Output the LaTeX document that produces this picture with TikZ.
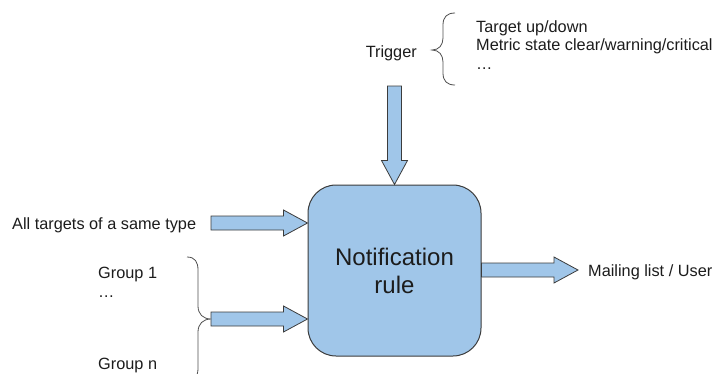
\documentclass[tikz,border=0pt]{standalone}
\usepackage{fontspec}
\setmainfont{Liberation Sans}
\usetikzlibrary{calc}

\definecolor{boxblue}{RGB}{160,198,233}
\definecolor{edgegray}{RGB}{60,60,60}
\definecolor{inkgray}{RGB}{28,28,28}

% block arrow from #1 to #2: shaft half-width 7, head half-width 13, head length 24
\newcommand\blockarrow[2]{%
  \coordinate (ba-h) at ($(#2)!24pt!(#1)$);
  \draw[barrow]
    ($(#1)!7pt!90:(#2)$) -- ($(ba-h)!7pt!-90:(#1)$) -- ($(ba-h)!13pt!-90:(#1)$)
    -- (#2) -- ($(ba-h)!13pt!90:(#1)$) -- ($(ba-h)!7pt!90:(#1)$)
    -- ($(#1)!7pt!-90:(#2)$) -- cycle;%
}

\tikzset{
  barrow/.style={fill=boxblue, draw=edgegray, line width=0.8pt, line join=miter},
  rulebox/.style={fill=boxblue, draw=edgegray, line width=1pt, rounded corners=28pt,
    minimum width=173pt, minimum height=171pt, align=center, inner sep=0pt,
    text=inkgray, font=\fontsize{24}{28}\selectfont},
  label/.style={inner sep=0pt, text=inkgray, font=\fontsize{16.3}{18}\selectfont},
  bracepath/.style={draw=edgegray!90, line width=0.8pt},
}

\begin{document}
\begin{tikzpicture}[x=1pt, y=-1pt]
  \useasboundingbox (0,0) rectangle (713,373);

  % central rule box
  \node[rulebox] (rule) at (394.5,270.5) {Notification\\rule};

  % labels
  \node[label, anchor=base east] (trig) at (417,57) {Trigger};
  \node[label, anchor=base west] (tl1) at (476,32) {Target up/down};
  \node[label, anchor=base west] (tl2) at (476,50) {Metric state clear/warning/critical};
  \node[label, anchor=base west] (tl3) at (476,69) {…};
  \node[label, anchor=base west] (all) at (12,229) {All targets of a same type};
  \node[label, anchor=base west] (g1) at (98,278) {Group 1};
  \node[label, anchor=base west] (gdots) at (98,297) {…};
  \node[label, anchor=base west] (gn) at (98,369) {Group n};
  \node[label, anchor=base west] (mail) at (588,276) {Mailing list / User};

  % arrow end points
  \coordinate (topin) at (rule.north |- 0,86);
  \coordinate (allin) at (211,223);
  \coordinate (grpin) at (211,319);
  \coordinate (out) at (578,270);

  \blockarrow{topin}{rule.north}
  \blockarrow{allin}{allin -| rule.west}
  \blockarrow{grpin}{grpin -| rule.west}
  \blockarrow{rule.east |- out}{out}

  % brace gathering the trigger kinds
  \draw[bracepath] (455,13) .. controls (447,13) and (443,17) .. (443,25)
    -- (443,38) .. controls (443,45) and (439,50) .. (432,50)
    .. controls (439,50) and (443,55) .. (443,62)
    -- (443,73) .. controls (443,81) and (447,85) .. (455,85);

  % brace gathering the groups
  \draw[bracepath] (187,257) .. controls (195,257) and (198,262) .. (198,270)
    -- (198,306) .. controls (198,314) and (203,319) .. (grpin)
    .. controls (203,319) and (198,324) .. (198,332)
    -- (198,368) .. controls (198,376) and (195,381) .. (187,381);
\end{tikzpicture}
\end{document}
